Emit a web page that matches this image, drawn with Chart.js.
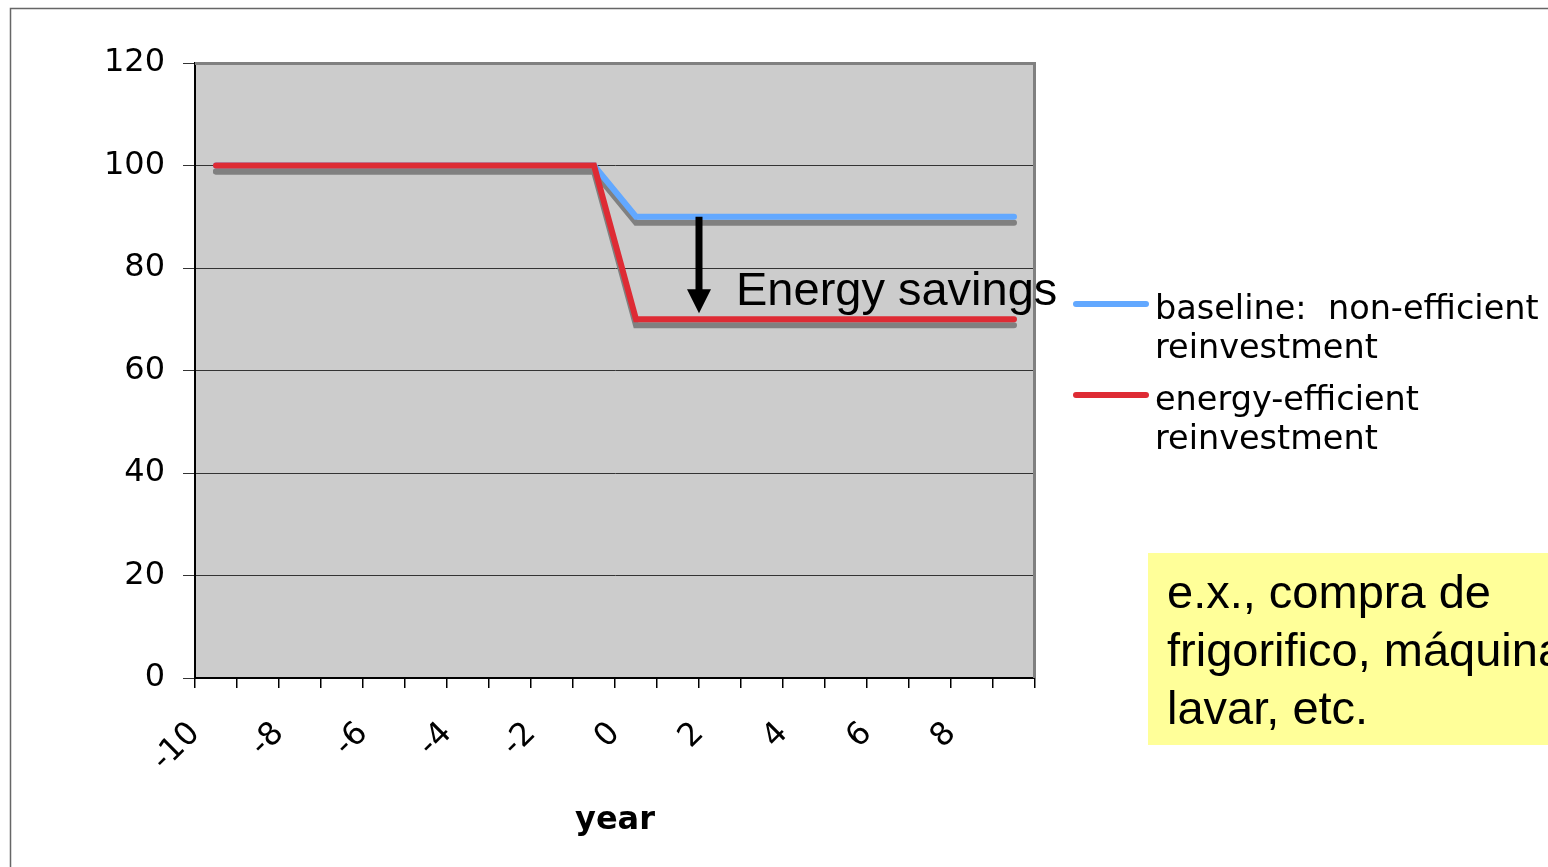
<!DOCTYPE html>
<html>
<head>
<meta charset="utf-8">
<title>Energy savings</title>
<script src="https://cdn.jsdelivr.net/npm/chart.js@4/dist/chart.umd.min.js"></script>
<style>
  html, body { margin: 0; padding: 0; background: #fff; }
  canvas { display: block; }
</style>
</head>
<body>
<canvas id="chart" width="1548" height="867"></canvas>
<script>
// data
const years = ['-10', '-9', '-8', '-7', '-6', '-5', '-4', '-3', '-2', '-1',
               '0', '1', '2', '3', '4', '5', '6', '7', '8', '9'];
const baseline = [100, 100, 100, 100, 100, 100, 100, 100, 100, 100,
                  90, 90, 90, 90, 90, 90, 90, 90, 90, 90];
const efficient = [100, 100, 100, 100, 100, 100, 100, 100, 100, 100,
                   70, 70, 70, 70, 70, 70, 70, 70, 70, 70];
const legendLabels = [['baseline:  non-efficient', 'reinvestment'],
                      ['energy-efficient', 'reinvestment']];
const noteLines = ['e.x., compra de', 'frigorifico, máquina de', 'lavar, etc.'];

const BLUE = '#62a8ff';
const RED = '#de2b34';
const SANS = '"DejaVu Sans", Verdana, sans-serif';
const ARIAL = '"Liberation Sans", Arial, sans-serif';

// grey plot area, frame, shadows, legend, arrow and the yellow note
const decor = {
    id: 'decor',
    beforeDraw(chart) {
        const { ctx, chartArea: a } = chart;
        ctx.save();
        ctx.fillStyle = '#cccccc';
        ctx.fillRect(a.left, a.top, a.right - a.left, a.bottom - a.top);
        // outer frame (only top and left show)
        ctx.strokeStyle = '#666';
        ctx.lineWidth = 1.5;
        ctx.beginPath();
        ctx.moveTo(10.5, chart.height);
        ctx.lineTo(10.5, 8.5);
        ctx.lineTo(chart.width, 8.5);
        ctx.stroke();
        ctx.restore();
    },
    beforeDatasetDraw(chart) {
        const ctx = chart.ctx;
        ctx.save();
        ctx.shadowColor = '#808080';
        ctx.shadowOffsetX = 0;
        ctx.shadowOffsetY = 6;
        ctx.shadowBlur = 0;
    },
    afterDatasetDraw(chart) {
        chart.ctx.restore();
    },
    afterDraw(chart) {
        const { ctx, chartArea: a, scales: { x, y } } = chart;
        ctx.save();
        // plot border top / right
        ctx.strokeStyle = '#808080';
        ctx.lineWidth = 3;
        ctx.beginPath();
        ctx.moveTo(a.left, a.top + 0.5);
        ctx.lineTo(a.right - 0.5, a.top + 0.5);
        ctx.lineTo(a.right - 0.5, a.bottom);
        ctx.stroke();

        // energy savings arrow between year 1 and year 2
        const ax = (x.getPixelForValue(11) + x.getPixelForValue(12)) / 2;
        const y1 = y.getPixelForValue(baseline[11]);
        const y2 = y.getPixelForValue(efficient[11]) - 6;
        ctx.strokeStyle = '#000';
        ctx.fillStyle = '#000';
        ctx.lineWidth = 7;
        ctx.beginPath();
        ctx.moveTo(ax, y1);
        ctx.lineTo(ax, y2 - 22);
        ctx.stroke();
        ctx.beginPath();
        ctx.moveTo(ax - 12, y2 - 24);
        ctx.lineTo(ax + 12, y2 - 24);
        ctx.lineTo(ax, y2);
        ctx.closePath();
        ctx.fill();
        ctx.font = '47px ' + ARIAL;
        ctx.textBaseline = 'alphabetic';
        ctx.textAlign = 'left';
        ctx.fillText('Energy savings', ax + 37, y2 - 8);

        // legend
        const colors = [BLUE, RED];
        const lx = a.right + 38;
        const tops = [319, 410];
        ctx.font = '33.5px ' + SANS;
        legendLabels.forEach((lines, i) => {
            ctx.strokeStyle = colors[i];
            ctx.lineWidth = 6;
            ctx.lineCap = 'round';
            ctx.beginPath();
            ctx.moveTo(lx + 3, tops[i] - 15);
            ctx.lineTo(lx + 73, tops[i] - 15);
            ctx.stroke();
            ctx.fillStyle = '#000';
            lines.forEach((t, j) => ctx.fillText(t, lx + 82, tops[i] + j * 39));
        });

        // yellow note box
        ctx.fillStyle = '#ffff99';
        ctx.fillRect(1148, 553, chart.width - 1148, 192);
        ctx.fillStyle = '#000';
        ctx.font = '47px ' + ARIAL;
        noteLines.forEach((t, j) => ctx.fillText(t, 1167, 608 + j * 58));
        ctx.restore();
    }
};

new Chart(document.getElementById('chart'), {
    type: 'line',
    data: {
        labels: years,
        datasets: [
            {
                label: 'baseline: non-efficient reinvestment',
                data: baseline,
                borderColor: BLUE,
                order: 2
            },
            {
                label: 'energy-efficient reinvestment',
                data: efficient,
                borderColor: RED,
                order: 1
            }
        ]
    },
    options: {
        responsive: false,
        animation: false,
        devicePixelRatio: 1,
        layout: { padding: { top: 63, right: 513, left: 0, bottom: 0 } },
        elements: {
            line: { borderWidth: 6, tension: 0, borderCapStyle: 'round', borderJoinStyle: 'miter' },
            point: { radius: 0 }
        },
        plugins: {
            legend: { display: false },
            tooltip: { enabled: false }
        },
        scales: {
            x: {
                offset: true,
                afterFit: (s) => { s.height = 189; },
                grid: { drawOnChartArea: false, offset: true, tickLength: 10, color: '#000', lineWidth: 1.5 },
                border: { color: '#000', width: 2 },
                ticks: {
                    autoSkip: false,
                    minRotation: 45,
                    maxRotation: 45,
                    labelOffset: -21,
                    padding: 27,
                    color: '#000',
                    font: { family: SANS, size: 32 },
                    callback: function (v, i) { return i % 2 === 0 ? this.getLabelForValue(v) : ''; }
                },
                title: {
                    display: true,
                    text: 'year',
                    color: '#000',
                    font: { family: SANS, size: 32, weight: 'bold' },
                    padding: { top: 0, bottom: 27 }
                }
            },
            y: {
                min: 0,
                max: 120,
                afterFit: (s) => { s.width = 195; },
                grid: { color: '#333', lineWidth: 1, tickLength: 12 },
                border: { color: '#000', width: 2 },
                ticks: {
                    stepSize: 20,
                    padding: 18,
                    color: '#000',
                    font: { family: SANS, size: 32 }
                }
            }
        }
    },
    plugins: [decor]
});
</script>
</body>
</html>
